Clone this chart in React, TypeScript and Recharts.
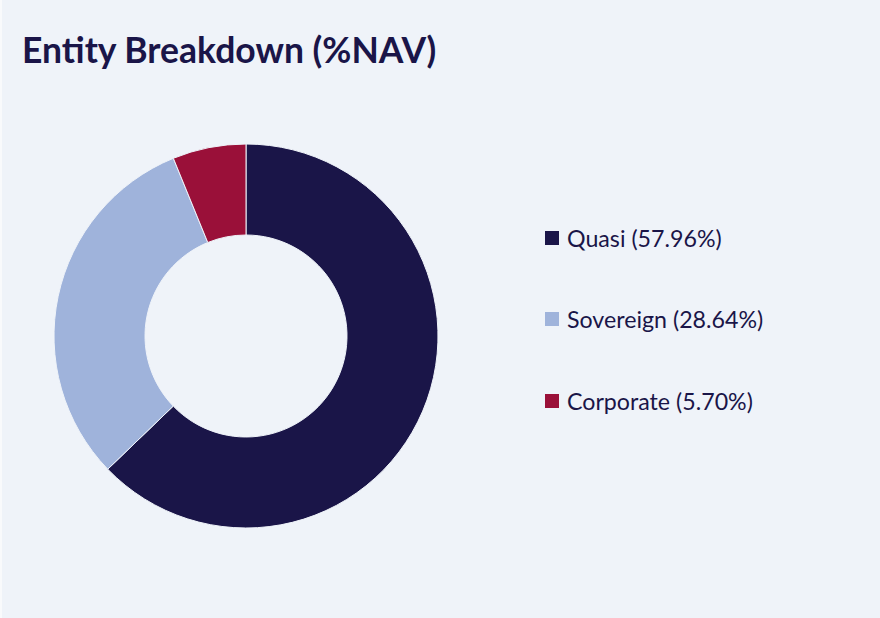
import React from 'react';
import { PieChart, Pie, Cell, Legend } from 'recharts';

const entities = ['Quasi', 'Sovereign', 'Corporate'];
const navShares = [57.96, 28.64, 5.7];
const colors = ['#1a1548', '#9fb3db', '#9a1039'];

const chartData = entities.map((name, i) => ({ name, value: navShares[i] }));

const FONT = 'Lato, "Noto Sans", sans-serif';

function EntityLegend() {
  return (
    <div style={{ fontFamily: FONT }}>
      {entities.map((name, i) => (
        <div
          key={`legend-${i}`}
          style={{ display: 'flex', alignItems: 'center', height: 81.5 }}
        >
          <span
            style={{
              display: 'inline-block',
              width: 14,
              height: 14,
              background: colors[i],
              marginRight: 8,
            }}
          />
          <span style={{ fontSize: 23.2, color: '#1a1548' }}>
            {name} ({navShares[i].toFixed(2)}%)
          </span>
        </div>
      ))}
    </div>
  );
}

export default function App() {
  return (
    <div
      style={{
        position: 'absolute',
        left: 0,
        top: 0,
        width: 880,
        height: 618,
        background: '#eff3f9',
        borderLeft: '2px solid #f9fafc',
        boxSizing: 'border-box',
        overflow: 'hidden',
      }}
    >
      <div
        style={{
          position: 'absolute',
          left: 20,
          top: 28,
          fontFamily: FONT,
          fontWeight: 700,
          fontSize: 35.5,
          color: '#1a1548',
          whiteSpace: 'nowrap',
        }}
      >
        Entity Breakdown (%NAV)
      </div>
      <PieChart width={878} height={618}>
        <Pie
          data={chartData}
          dataKey="value"
          nameKey="name"
          cx={239}
          cy={331}
          innerRadius={101}
          outerRadius={192}
          startAngle={90}
          endAngle={-270}
          stroke="#eff3f9"
          strokeWidth={1}
          isAnimationActive={false}
        >
          {chartData.map((entry, i) => (
            <Cell key={`cell-${i}`} fill={colors[i]} />
          ))}
        </Pie>
        <Legend
          layout="vertical"
          content={<EntityLegend />}
          wrapperStyle={{ position: 'absolute', left: 543, top: 197, width: 320 }}
        />
      </PieChart>
    </div>
  );
}
